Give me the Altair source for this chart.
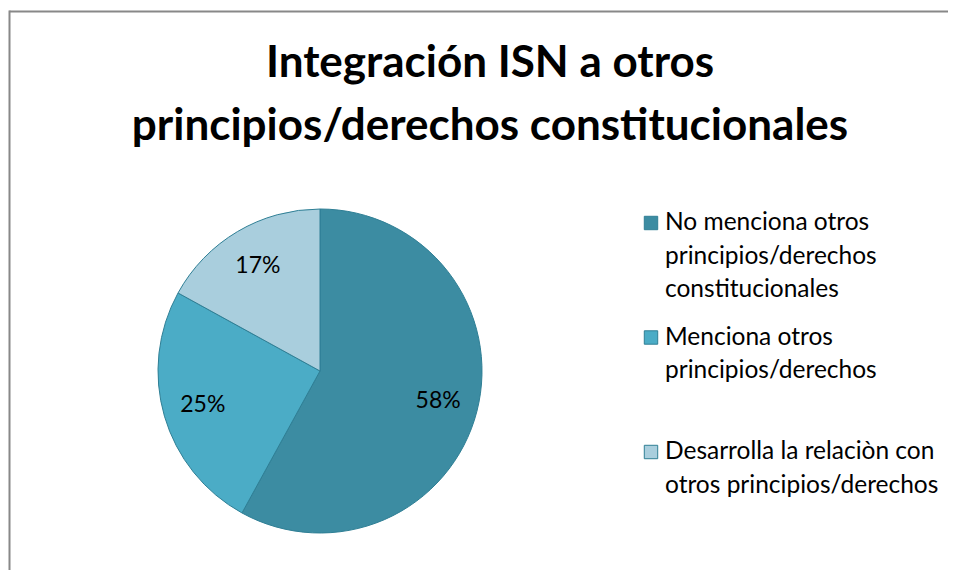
import altair as alt
import pandas as pd

categories = [
    "No menciona otros principios/derechos constitucionales",
    "Menciona otros principios/derechos",
    "Desarrolla la relaciòn con otros principios/derechos",
]
values = [58, 25, 17]
colors = ["#3C8CA2", "#4BACC6", "#A9CEDD"]
legend_lines = [
    ["No menciona otros", "principios/derechos", "constitucionales"],
    ["Menciona otros", "principios/derechos"],
    ["Desarrolla la relaciòn con", "otros principios/derechos"],
]
title_lines = ["Integración ISN a otros", "principios/derechos constitucionales"]

df = pd.DataFrame({"categoria": categories, "valor": values, "orden": list(range(len(categories)))})
df["etiqueta"] = [f"{v}%" for v in values]
df["leyenda"] = legend_lines

W, H = 324, 324
PAD = {"left": 150, "top": 201, "right": 466, "bottom": 37}

color_enc = alt.Color(
    "categoria:N",
    scale=alt.Scale(domain=categories, range=colors),
    sort=categories,
    legend=None,
)

base = alt.Chart(df).encode(
    theta=alt.Theta("valor:Q", stack=True),
    order=alt.Order("orden:Q"),
)

pie = base.mark_arc(stroke="#2F7F95", strokeWidth=1).encode(color=color_enc)

text = base.mark_text(radius=122, font="Lato", fontSize=23, color="#000000").encode(
    text="etiqueta:N"
)

leg_y = alt.Y(
    "categoria:N",
    sort=categories,
    scale=alt.Scale(type="point", domain=categories, range=[14, 243], padding=0),
    axis=None,
)

leg_sym = alt.Chart(df).mark_point(
    shape="square", filled=True, size=180, stroke="#2F7F95", strokeWidth=1, opacity=1
).encode(x=alt.value(493), y=leg_y, color=color_enc)

leg_txt = alt.Chart(df).mark_text(
    align="left", baseline="middle", font="Lato", fontSize=24.5, lineHeight=33.5,
    color="#000000"
).encode(x=alt.value(507), y=leg_y, text="leyenda")

single = alt.Data(values=[{"k": 1}])
top_line = alt.Chart(single).mark_rule(color="#888888", strokeWidth=2).encode(
    x=alt.value(-148.5), x2=alt.value(W + PAD["right"]), y=alt.value(-197.5)
)
left_line = alt.Chart(single).mark_rule(color="#888888", strokeWidth=2).encode(
    x=alt.value(-148.5), y=alt.value(-198.5), y2=alt.value(H + PAD["bottom"])
)
title = alt.Chart(single).mark_text(
    align="center", baseline="alphabetic", font="Lato", fontSize=44,
    fontWeight="bold", lineHeight=63, color="#000000"
).encode(x=alt.value(332), y=alt.value(-132), text=alt.value(title_lines))

chart = alt.layer(top_line, left_line, title, pie, text, leg_sym, leg_txt).properties(
    width=W,
    height=H,
    padding=PAD,
    autosize=alt.AutoSizeParams(type="none"),
    background="#ffffff",
).configure_view(stroke=None)

chart.save("out.html", embed_options={"renderer": "svg", "actions": False})
